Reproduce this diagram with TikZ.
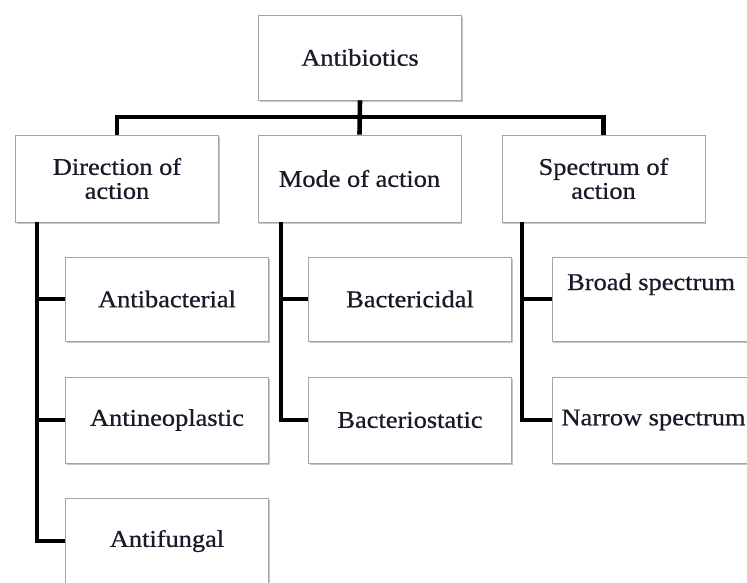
\documentclass[tikz,border=0pt]{standalone}
\usepackage{fontspec}
\setmainfont{Liberation Serif}[FakeStretch=1.1,FakeBold=0.7]
\usetikzlibrary{shadows}
\definecolor{txt}{RGB}{25,25,40}
\definecolor{edge}{RGB}{165,165,165}
\begin{document}
\begin{tikzpicture}[x=1pt,y=-1pt,
  box/.style={draw=edge, line width=0.9pt, fill=white, minimum width=203pt,
    minimum height=85pt, inner sep=0pt, align=center, text=txt,
    font=\fontsize{24}{24}\selectfont,
    drop shadow={shadow xshift=1.3pt, shadow yshift=-1.8pt, opacity=0.45, fill=gray}},
  lbl/.style={inner sep=0pt, text=txt, font=\fontsize{24}{24}\selectfont},
  conn/.style={line width=4.6pt, black}
]
\useasboundingbox (0,0) rectangle (747,582);
\clip (0,0) rectangle (747,582);

% boxes
\node[box] (top) at (360,57.5) {Antibiotics};
\node[box, minimum height=87pt] (dir) at (117,178.5) {Direction of\\action};
\node[box, minimum height=87pt] (mode) at (359.5,178.5) {Mode of action};
\node[box, minimum height=87pt] (spec) at (603.5,178.5) {Spectrum of\\action};

\node[box, minimum height=84pt] (abac) at (167,299) {Antibacterial};
\node[box, minimum height=86pt] (aneo) at (167,420) {Antineoplastic};
\node[box, minimum height=86pt] (afung) at (167,541) {Antifungal};

\node[box, minimum height=84pt] (bcid) at (410,299) {Bactericidal};
\node[box, minimum height=86pt] (bstat) at (410,420) {Bacteriostatic};

\node[box, minimum height=84pt] (broad) at (653.5,299) {};
\node[lbl, anchor=base west] (broadt) at (567,290) {Broad spectrum};
\node[box, minimum height=86pt] (narrow) at (653.5,420) {Narrow spectrum};

% connectors
\coordinate (bar) at (360,117);
\draw[conn] (top.south) -- (mode.north);
\draw[conn] (dir.north) |- (bar) -| (spec.north);

\coordinate (lv) at (37,222);
\draw[conn] (lv) |- (abac.west);
\draw[conn] (lv) |- (aneo.west);
\draw[conn] (lv) |- (afung.west);

\coordinate (mv) at (281,222);
\draw[conn] (mv) |- (bcid.west);
\draw[conn] (mv) |- (bstat.west);

\coordinate (rv) at (522,222);
\draw[conn] (rv) |- (broad.west);
\draw[conn] (rv) |- (narrow.west);
\end{tikzpicture}
\end{document}
